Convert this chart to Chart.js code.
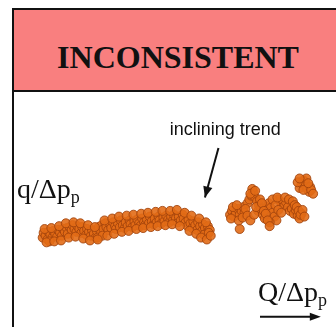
<!DOCTYPE html>
<html>
<head>
<meta charset="utf-8">
<script src="https://cdn.jsdelivr.net/npm/chart.js@4"></script>
<style>
  html, body { margin:0; padding:0; background:#fff; width:336px; height:327px; overflow:hidden; }
  #box { position:absolute; left:12px; top:8px; width:400px; height:400px; border:2px solid #111; box-sizing:border-box; }
  #head { position:absolute; left:0; top:0; right:0; height:80px; background:#F97F7F; border-bottom:2px solid #111; }
  #title { position:absolute; left:4px; width:320px; top:31px; text-align:center; font:bold 32px "Liberation Serif", serif; color:#111; line-height:33px; }
  #wrap { position:absolute; left:14px; top:90px; width:322px; height:237px; }
  .lbl { position:absolute; font:28px "Liberation Serif", serif; color:#111; line-height:28px; white-space:nowrap; }
  .lbl sub { font-size:18px; vertical-align:-5px; }
</style>
</head>
<body>
<div id="box"><div id="head"><div id="title">INCONSISTENT</div></div></div>
<div id="wrap"><canvas id="c" width="322" height="237"></canvas></div>
<div class="lbl" style="left:17px;top:175px;">q/Δp<sub>p</sub></div>
<div class="lbl" style="left:258px;top:278px;">Q/Δp<sub>p</sub></div>
<script>
// scatter (arbitrary units)
const leftX = [24,25,27,29,30,32,34,35,37,39,40,42,44,45,47,49,50,52,54,55,57,59,60,62,64,65,67,69,70,72,74,75,77,79,80,82,84,85,87,89,90,92,94,95,97,99,100,102,104,105,107,109,110,112,114,115,117,119,120,122,124,125,127,129,130,132,134,135,137,139,140,142,144,145,147,149,150,152,154,155,157,159,160,162,164,165,167,169,170,172,174,175,177,179,180,182,184,185,187,189,190,192,194,195,197,191,196,31,81,86,
  26,33,41,48,56,63,71,78,88,96,103,111,118,126,133,141,148,156,163,171,178,186,193,
  28,36,43,51,58,66,73,81,91,98,106,113,121,128,136,143,151,158,166,176,183,188,194,198];
const leftY = [88,93,90,86,94,91,88,95,92,89,96,93,90,97,94,98,92,99,96,101,97,94,100,97,93,99,95,91,97,94,90,96,92,88,95,99,94,101,97,103,99,96,102,98,104,100,97,103,99,106,101,98,104,100,106,102,99,105,101,107,103,100,108,104,101,107,103,110,105,102,108,104,110,106,103,109,105,111,107,104,110,106,112,108,104,110,106,112,108,104,100,107,103,98,105,101,96,104,100,95,102,98,93,100,96,91,93,84,88,90,
  97,98,100,103,104,103,101,99,106,108,110,111,112,113,114,115,116,116,117,114,111,108,104,
  83,84,85,88,89,87,85,86,90,92,94,95,97,98,99,100,101,102,100,95,92,88,86,90];
const rightX = [218,220,222,224,226,228,230,228,232,233,236,238,240,242,244,246,248,247,250,252,254,256,258,260,262,264,266,270,272,274,276,278,280,282,284,286,288,290,292,290,292,294,296,298,300,301,297,259,268,
  219,221,225,227,231,234,236,239,243,245,249,251,253,255,257,241,239,244,262,265,267,268,271,275,279,283,285,287,289,291,293,295,259,288,294,302,299,290,304];
const rightY = [112,116,110,114,118,112,116,97,120,114,124,128,132,136,130,126,122,116,118,112,108,120,124,119,114,110,106,126,124,122,125,120,116,118,113,117,111,108,113,140,145,148,143,139,136,141,150,104,128,
  108,120,122,106,109,118,111,106,112,120,128,124,116,113,106,139,134,137,128,122,130,117,114,130,128,126,122,120,116,112,117,110,100,146,138,138,145,150,134];
const xRange = [0,322];
const yRange = [0,237];
const pts = leftX.map((x,i)=>({x, y:leftY[i]})).concat(rightX.map((x,i)=>({x, y:rightY[i]})));

const annot = {
  id:'annot',
  afterDatasetsDraw(chart){
    const {ctx, scales:{x, y}} = chart;
    ctx.save();
    ctx.fillStyle='#111'; ctx.strokeStyle='#111';
    ctx.font='18px "Liberation Sans", Arial, sans-serif';
    ctx.textAlign='center'; ctx.textBaseline='alphabetic';
    ctx.fillText('inclining trend', x.getPixelForValue(213), y.getPixelForValue(196));
    // arrow to trend
    const x0=x.getPixelForValue(206), y0=y.getPixelForValue(182);
    const x1=x.getPixelForValue(192), y1=y.getPixelForValue(130);
    ctx.lineWidth=2;
    ctx.beginPath(); ctx.moveTo(x0,y0); ctx.lineTo(x1,y1); ctx.stroke();
    const a=Math.atan2(y1-y0,x1-x0);
    ctx.beginPath(); ctx.moveTo(x1,y1);
    ctx.lineTo(x1-12*Math.cos(a-0.4), y1-12*Math.sin(a-0.4));
    ctx.lineTo(x1-12*Math.cos(a+0.4), y1-12*Math.sin(a+0.4));
    ctx.closePath(); ctx.fill();
    // Q axis arrow
    const ax0=x.getPixelForValue(249), ax1=x.getPixelForValue(312), ay=y.getPixelForValue(5);
    ctx.beginPath(); ctx.moveTo(ax0,ay); ctx.lineTo(ax1-8,ay); ctx.stroke();
    ctx.beginPath(); ctx.moveTo(ax1,ay); ctx.lineTo(ax1-11,ay-4); ctx.lineTo(ax1-11,ay+4); ctx.closePath(); ctx.fill();
    ctx.restore();
  }
};

new Chart(document.getElementById('c'), {
  type:'scatter',
  data:{ datasets:[{ data:pts, backgroundColor:'rgba(226,108,22,0.9)', borderColor:'rgba(160,66,12,0.85)', borderWidth:1, pointRadius:4.5 }]},
  options:{
    responsive:false, animation:false, events:[],
    layout:{ padding:0 },
    plugins:{ legend:{display:false}, tooltip:{enabled:false} },
    scales:{
      x:{ type:'linear', min:xRange[0], max:xRange[1], display:false },
      y:{ type:'linear', min:yRange[0], max:yRange[1], display:false }
    }
  },
  plugins:[annot]
});
</script>
</body>
</html>
